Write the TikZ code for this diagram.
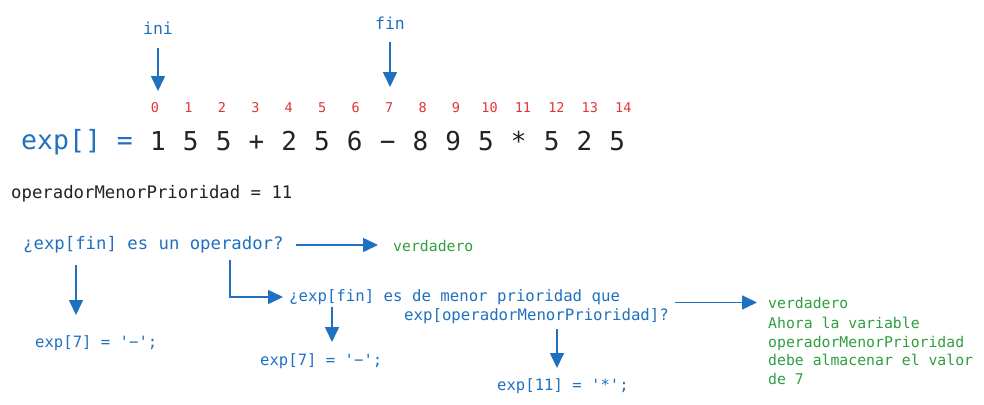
\documentclass[tikz,border=0pt]{standalone}
\usepackage{fontspec}
\setmonofont{DejaVu Sans Mono}
\usetikzlibrary{arrows.meta,calc}
\definecolor{cblue}{RGB}{31,112,193}
\definecolor{cred}{RGB}{226,52,52}
\definecolor{cgreen}{RGB}{46,158,64}
\definecolor{ctext}{RGB}{34,34,34}
\begin{document}
\begin{tikzpicture}[x=1pt,y=-1pt,
  lbl/.style={inner sep=0pt, font=\ttfamily},
  arr/.style={draw=cblue, line width=1.6pt, -{Triangle[length=15pt,width=14pt]}},
  idx/.style={lbl, text=cred, text height=9.5pt, text depth=0pt, font=\ttfamily\fontsize{13.5}{15}\selectfont},
  dig/.style={lbl, text=ctext, text height=19pt, text depth=0pt, font=\ttfamily\fontsize{26}{30}\selectfont},
  blu/.style={lbl, text=cblue},
  grn/.style={lbl, text=cgreen}]
\useasboundingbox (0,0) rectangle (984,404);

% pointers
\node[blu, font=\ttfamily\fontsize{16.5}{19}\selectfont] (ini) at (158,28) {ini};
\node[blu, font=\ttfamily\fontsize{16.5}{19}\selectfont] (fin) at (390,23) {fin};

% indices
\foreach \i in {0,...,14} {
  \node[idx] (i\i) at ({155+33.45*\i},108) {\i};
}

% expression
\node[blu, anchor=west, font=\ttfamily\fontsize{26.5}{30}\selectfont] (expl) at (21,142) {exp[] =};
\foreach \c [count=\k from 0] in {1,5,5,+,2,5,6,{\textminus},8,9,5,*,5,2,5} {
  \node[dig] (d\k) at ({158+32.8*\k},140.5) {\c};
}

\node[lbl, anchor=west, text=ctext, font=\ttfamily\fontsize{17.3}{20}\selectfont] (opm) at (11,194) {operadorMenorPrioridad = 11};

% first question
\node[blu, anchor=west, font=\ttfamily\fontsize{17.3}{20}\selectfont] (q1) at (23,245) {¿exp[fin] es un operador?};
\node[grn, anchor=west, font=\ttfamily\fontsize{14.8}{18}\selectfont] (v1) at (393,246) {verdadero};
\node[blu, anchor=west, font=\ttfamily\fontsize{15.6}{18}\selectfont] (a1) at (35,343) {exp[7] = '\textminus';};

% second question
\node[blu, anchor=west, font=\ttfamily\fontsize{15.7}{18}\selectfont] (q2a) at (289,297) {¿exp[fin] es de menor prioridad que};
\node[blu, anchor=west, font=\ttfamily\fontsize{15.7}{18}\selectfont] (q2b) at (404,316) {exp[operadorMenorPrioridad]?};
\node[blu, anchor=west, font=\ttfamily\fontsize{15.6}{18}\selectfont] (a2) at (260,361) {exp[7] = '\textminus';};
\node[blu, anchor=west, font=\ttfamily\fontsize{15.6}{18}\selectfont] (a3) at (497,386) {exp[11] = '*';};

\node[grn, anchor=base west, font=\ttfamily\fontsize{14.8}{18}\selectfont] (v2) at (768,308) {verdadero};
\node[grn, anchor=north west, align=left, font=\ttfamily\fontsize{14.8}{18.6}\selectfont] (v2t) at (768,317) {Ahora la variable\\operadorMenorPrioridad\\debe almacenar el valor\\de 7};

% connectors
\draw[arr, shorten <=14pt, shorten >=17pt] (ini) -- (ini |- i0);
\draw[arr, shorten <=13pt, shorten >=21pt] (fin) -- (fin |- i7);
\draw[arr, shorten <=12pt, shorten >=15pt] (q1.east) -- (q1.east -| v1.west);
\draw[arr, shorten <=20pt, shorten >=28pt] ($(q1.west)+(53,0)$) -- ($(a1.west)+(41,0)$);
\draw[arr, shorten >=6pt] ($(q1.west)+(207,15)$) |- (q2a.west);
\draw[arr, shorten <=10pt, shorten >=19pt] ($(q2a.west)+(43,0)$) -- ($(a2.west)+(72,0)$);
\draw[arr, shorten <=13pt, shorten >=18pt] ($(q2b.west)+(153,0)$) -- ($(a3.west)+(60,0)$);
\draw[arr, shorten <=6pt, shorten >=11pt] (q2b.east |- v2.west) -- (v2.west);
\end{tikzpicture}
\end{document}
